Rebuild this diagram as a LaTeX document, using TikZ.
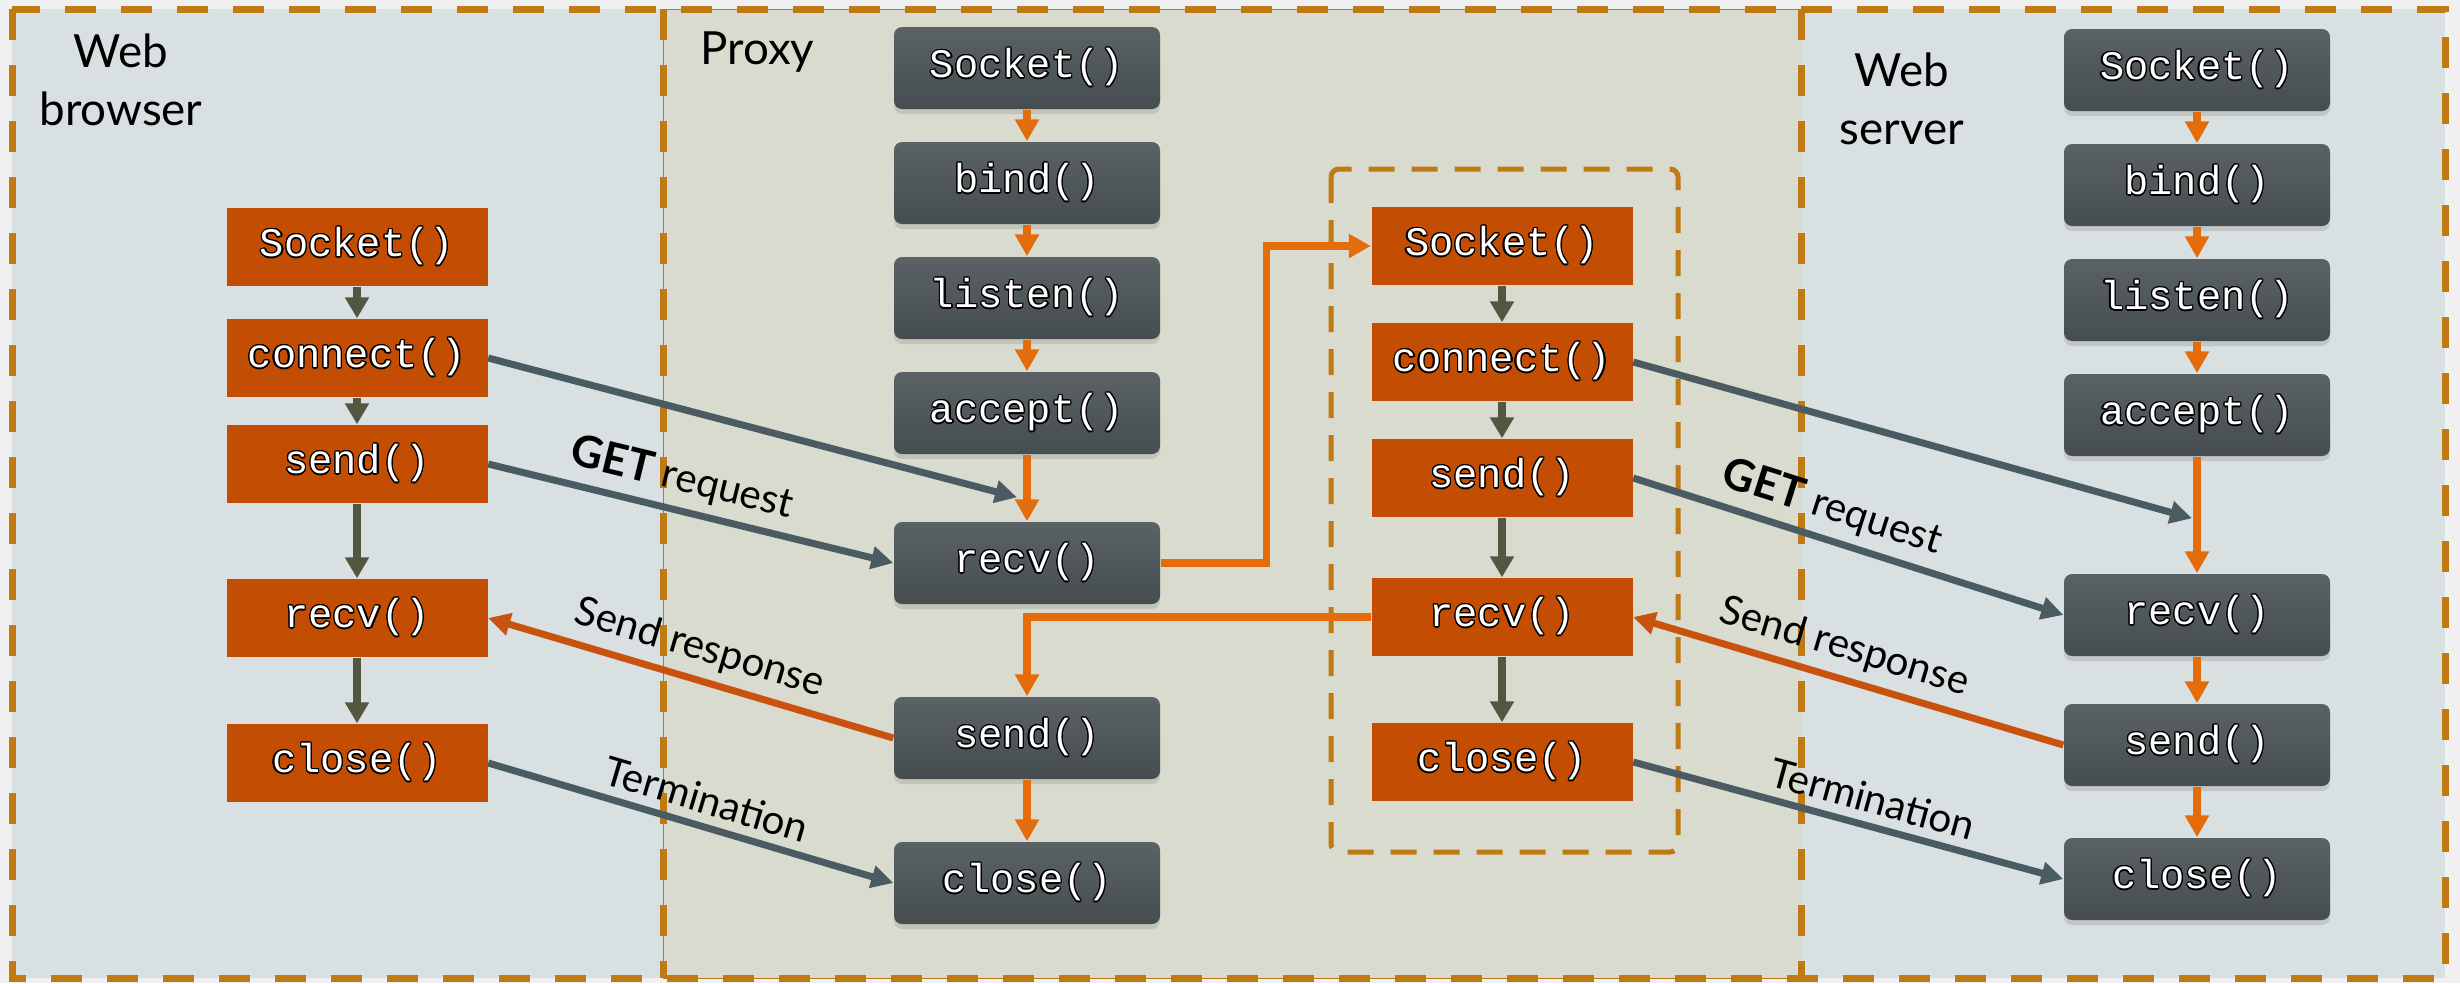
\documentclass[tikz,border=0pt]{standalone}
\usepackage{fontspec}
\setmainfont{Lato}
\newfontfamily\codefont{Liberation Mono}
\usepackage{contour}
\contourlength{0.35pt}
\usetikzlibrary{arrows.meta,calc,shadows}

\definecolor{pagebg}{HTML}{F0F0F0}
\definecolor{clientbg}{HTML}{D8E0E1}
\definecolor{proxybg}{HTML}{D9DBCE}
\definecolor{framecol}{HTML}{C07A14}
\definecolor{callfill}{HTML}{C24D03}
\definecolor{boxtop}{HTML}{5B6266}
\definecolor{boxbot}{HTML}{464D50}
\definecolor{flowor}{HTML}{E46C0A}
\definecolor{flowol}{HTML}{535640}
\definecolor{wire}{HTML}{4A5B61}
\definecolor{reply}{HTML}{C8520E}

\newcommand{\call}[1]{\contour{black}{#1}}
\newcommand{\getreq}{{\fontsize{12.5}{14}\selectfont\textbf{GET}} request}

\begin{document}
\begin{tikzpicture}[x=0.1mm,y=-0.1mm,
  frame/.style={draw=framecol,line width=0.7mm,dash pattern=on 3.1mm off 2.5mm},
  sysbox/.style={rounded corners=0.8mm,top color=boxtop,bottom color=boxbot,
    minimum width=26.6mm,minimum height=8.2mm,inner sep=0pt,text=white,
    font=\codefont\fontsize{11.5}{13}\selectfont,
    drop shadow={opacity=0.25,shadow xshift=0mm,shadow yshift=-0.5mm}},
  callbox/.style={fill=callfill,minimum width=26.1mm,minimum height=7.8mm,
    inner sep=0pt,text=white,font=\codefont\fontsize{11.5}{13}\selectfont},
  oarr/.style={-{Triangle[width=2.3mm,length=2.2mm]},draw=flowor,line width=0.75mm},
  garr/.style={-{Triangle[width=2.3mm,length=2.1mm]},draw=flowol,line width=0.8mm},
  warr/.style={-{Triangle[width=2.2mm,length=2.2mm]},draw=wire,line width=0.7mm},
  rarr/.style={-{Triangle[width=2.2mm,length=2.2mm]},draw=reply,line width=0.7mm},
  lbl/.style={font=\fontsize{11.5}{14}\selectfont,sloped,above=0.9mm,inner sep=0pt},
  title/.style={font=\fontsize{13}{16.5}\selectfont,align=center}]

\fill[pagebg,use as bounding box] (0,0) rectangle (2460,983);
\fill[clientbg] (12,9) rectangle (663,978);
\fill[proxybg,draw=framecol,line width=0.1mm] (663,9) rectangle (1801,978);
\fill[clientbg] (1801,9) rectangle (2445,978);
\draw[frame] (12,9) rectangle (2445,978);
\draw[frame] (663,9) -- (663,978);
\draw[frame] (1801,9) -- (1801,978);
\draw[framecol,line width=0.5mm,rounded corners=0.8mm,dash pattern=on 2.6mm off 1.7mm]
  (1331,169) rectangle (1678,852);

\node[title] (browser) at (121,80) {Web\\browser};
\node[title,anchor=west] (proxy) at (688,52) {Proxy};
\node[title] (server) at (1902,99) {Web\\server};

% browser
\node[callbox] (bsock) at (357,247) {\call{Socket()}};
\node[callbox] (bconn) at (357,358) {\call{connect()}};
\node[callbox] (bsend) at (357,464) {\call{send()}};
\node[callbox] (brecv) at (357,618) {\call{recv()}};
\node[callbox] (bclose) at (357,763) {\call{close()}};
\draw[garr] (bsock) -- (bconn);
\draw[garr] (bconn) -- (bsend);
\draw[garr] (bsend) -- (brecv);
\draw[garr] (brecv) -- (bclose);

% proxy, server side
\node[sysbox] (psock) at (1027,68) {\call{Socket()}};
\node[sysbox] (pbind) at (1027,183) {\call{bind()}};
\node[sysbox] (plisten) at (1027,298) {\call{listen()}};
\node[sysbox] (paccept) at (1027,413) {\call{accept()}};
\node[sysbox] (precv) at (1027,563) {\call{recv()}};
\node[sysbox] (psend) at (1027,738) {\call{send()}};
\node[sysbox] (pclose) at (1027,883) {\call{close()}};
\draw[oarr] (psock) -- (pbind);
\draw[oarr] (pbind) -- (plisten);
\draw[oarr] (plisten) -- (paccept);
\draw[oarr] (paccept) -- (precv);
\draw[oarr] (psend) -- (pclose);

% proxy, client side
\node[callbox] (isock) at (1502,246) {\call{Socket()}};
\node[callbox] (iconn) at (1502,362) {\call{connect()}};
\node[callbox] (isend) at (1502,478) {\call{send()}};
\node[callbox] (irecv) at (1502,617) {\call{recv()}};
\node[callbox] (iclose) at (1502,762) {\call{close()}};
\draw[garr] (isock) -- (iconn);
\draw[garr] (iconn) -- (isend);
\draw[garr] (isend) -- (irecv);
\draw[garr] (irecv) -- (iclose);
\draw[oarr] (precv.east) -- ++(106,0) |- (isock);
\draw[oarr] (irecv.west) -| (psend);

% server
\node[sysbox] (ssock) at (2197,70) {\call{Socket()}};
\node[sysbox] (sbind) at (2197,185) {\call{bind()}};
\node[sysbox] (slisten) at (2197,300) {\call{listen()}};
\node[sysbox] (saccept) at (2197,415) {\call{accept()}};
\node[sysbox] (srecv) at (2197,615) {\call{recv()}};
\node[sysbox] (ssend) at (2197,745) {\call{send()}};
\node[sysbox] (sclose) at (2197,879) {\call{close()}};
\draw[oarr] (ssock) -- (sbind);
\draw[oarr] (sbind) -- (slisten);
\draw[oarr] (slisten) -- (saccept);
\draw[oarr] (saccept) -- (srecv);
\draw[oarr] (srecv) -- (ssend);
\draw[oarr] (ssend) -- (sclose);

% messages
\coordinate (ptip) at ($(precv.north)+(-10,-24)$);
\coordinate (stip) at ($(srecv.north)+(-5,-55)$);
\draw[warr] (bconn.east) -- (ptip);
\draw[warr] (bsend.east) -- node[lbl,pos=0.46] {\getreq} (precv.west);
\draw[rarr] (psend.west) -- node[lbl,pos=0.5] {Send response} (brecv.east);
\draw[warr] (bclose.east) -- node[lbl,pos=0.52] {Termination} (pclose.west);
\draw[warr] (iconn.east) -- (stip);
\draw[warr] (isend.east) -- node[lbl,pos=0.44] {\getreq} (srecv.west);
\draw[rarr] (ssend.west) -- node[lbl,pos=0.53] {Send response} (irecv.east);
\draw[warr] (iclose.east) -- node[lbl,pos=0.54] {Termination} (sclose.west);
\end{tikzpicture}
\end{document}
